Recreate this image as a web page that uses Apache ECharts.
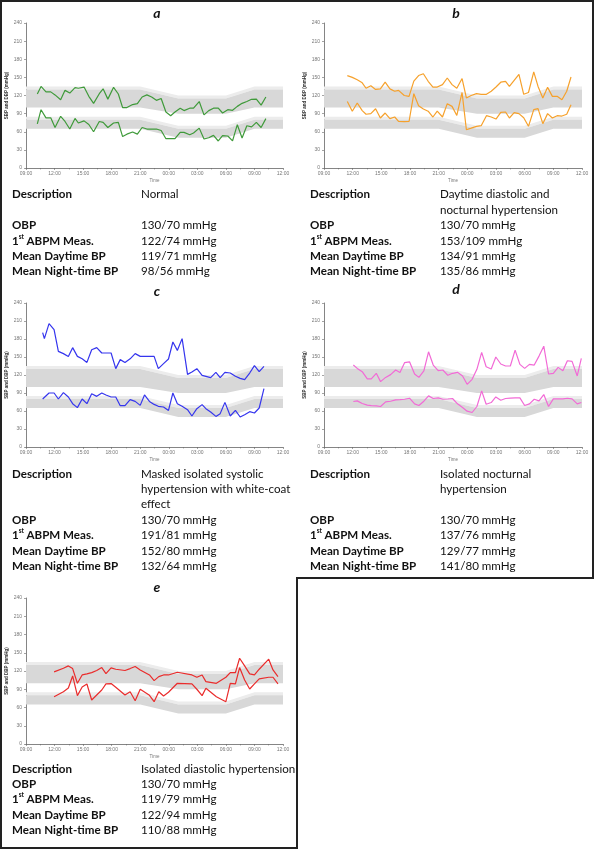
<!DOCTYPE html>
<html><head><meta charset="utf-8">
<script src="https://cdn.jsdelivr.net/npm/echarts@6/dist/echarts.min.js"></script>
<style>
html,body{margin:0;padding:0;background:#fff;}
#wrap{position:relative;width:594px;height:849px;overflow:hidden;font-family:Lato,'Open Sans',sans-serif;}
#chart{position:absolute;left:0;top:0;width:594px;height:849px;}
.t{position:absolute;font-weight:bold;font-style:italic;font-size:14px;line-height:14px;transform:translate(-50%,-50%);color:#111}
.row{position:absolute;left:0;height:15.4px;line-height:15.4px;font-size:11.6px;white-space:nowrap;color:#111}
.ln{position:absolute;background:#222}
sup{font-size:6.5px;vertical-align:top;line-height:10px;position:relative;top:-1px}
</style></head>
<body><div id="wrap"><div id="chart"></div></div>
<script>
// ---- axis / category data ----
const timeLabels = ['09:00','12:00','15:00','18:00','21:00','00:00','03:00','06:00','09:00','12:00'];
const yTickMax = 240, yTickStep = 30;
// normal-range bands (hours after 09:00)
const bandHours  = [0, 12, 16, 21, 24, 27];
const sbpBandLow = [100,100, 90, 90,100,100];
const sbpBandMid = [130,130,115,115,130,130];
const sbpBandHigh= [135,135,120,120,135,135];
const dbpBandLow = [65, 65, 50, 50, 65, 65];
const dbpBandMid = [80, 80, 65, 65, 80, 80];
const dbpBandHigh= [85, 85, 70, 70, 85, 85];

// ---- panel a ----
const aHours = [1.19,1.58,2.1,2.6,3.05,3.64,4.1,4.6,5.15,5.5,6.1,6.6,7.1,7.7,8.1,8.6,9.2,9.7,10.15,10.6,11.2,11.7,12.2,12.7,13.2,13.7,14.2,14.7,15.2,15.65,16.2,16.6,17.2,17.6,18.2,18.7,19.2,19.7,20.2,20.65,21.2,21.7,22.2,22.7,23.2,23.7,24.2,24.7,25.2];
const aSBP = [122.5,135,126,126,121,113,128.5,124,133,132,134,118.6,107,123,131,114,133.5,122.5,100,100,105,106.5,117.5,121,117.5,112,115,92.7,86.6,92.7,99,95,99,99,110,88,95,99,99,91,96.5,95.5,102,107,110,113.7,114,104,117.5];
const aDBP = [73,96.5,83,83,67,85.5,77,64.5,82,74.5,78,72,60,77,75.6,67,74.5,75.6,52,56,59.6,56,67,64.5,64.5,64.5,62,48.5,48.5,48.5,59,59,55,58,66,48,50,54,44.7,53.5,53,45,71.7,49.6,70,68,75.6,67,81.7];

// ---- panel b ----
const bHours = [2.44,2.96,3.48,4.0,4.4,4.9,5.4,5.9,6.4,6.9,7.4,7.8,8.4,8.9,9.4,9.9,10.4,10.9,11.4,11.85,12.4,12.9,13.4,13.9,14.45,14.9,15.4,15.96,16.45,17.0,17.5,18.0,18.5,19.0,19.4,19.9,20.4,20.9,21.4,21.95,22.4,22.9,23.4,23.9,24.4,24.9,25.4,25.85];
const bSBP = [153,150,146,141,132,136,130,131,142,131,127,128.5,120,118.6,143.7,153,156,143.5,134,134,138,149,138,132,148,116,120,123,122,122,127,134,142,143.5,135,145,155,122,125,159,135,116,133.5,118.6,118.6,113,127,150.6];
const bDBP = [110,94,107.6,95,89,90,98,82.8,91,81.7,84.4,77.2,76.7,77,123,103,97.6,94,84.4,94,84.4,106.5,102,87,125,63.4,66,69,70,86.6,84.4,81,92,92.7,82.8,91.6,90,83.3,69,96.6,98.2,73.4,90,82.8,86.6,86,89,104.8];

// ---- panel c ----
const cHours = [1.75,1.93,2.42,2.95,3.4,3.93,4.45,4.9,5.4,5.9,6.4,6.9,7.43,7.96,8.4,8.94,9.43,9.9,10.4,10.94,11.47,12.0,12.45,12.97,13.46,13.9,14.45,14.97,15.43,15.9,16.4,16.97,17.43,17.95,18.5,18.9,19.4,19.95,20.4,20.9,21.46,22.0,22.5,22.97,23.5,24.0,24.5,25.0];
const cSBP = [190.5,180.6,205.6,195.6,159.4,155.6,151,165.6,151,147,141,162,165.6,156.7,156.7,156.7,130.6,145.6,141,147,155.6,151,151,151,151,130.6,139,146.7,175,161,180.6,121,125,130.6,119.4,117.8,115.6,124.4,115.6,124.4,123.3,117.8,114.4,112.2,123.3,135.6,125.6,134.4];
const cDBP = [80,82,90,90,80,90.6,83.3,72.2,65.6,80,72.2,88.9,84.4,90,86.7,83.3,83.3,68.9,68.9,78.9,76,69.4,86.7,76,71,67.8,66.7,61,90,72.2,67.8,62.2,51.7,63.9,70.6,63.9,58.3,51,55.6,74.4,51.7,61,50,53.9,58.9,56.7,65,97.2];

// ---- panel d ----
const dHours = [3.07,3.48,4.0,4.53,4.95,5.47,5.92,6.45,6.97,7.5,7.95,8.43,8.95,9.48,9.93,10.45,10.94,11.43,11.95,12.44,12.96,13.45,13.97,14.5,14.98,15.5,16.0,16.5,16.97,17.5,17.98,18.5,19.0,19.5,20.0,20.5,21.0,21.5,22.0,22.5,23.0,23.5,24.0,24.5,25.0,25.47,25.96,26.5,26.93];
const dSBP = [136.6,131,125.6,113.4,113.4,122.8,109,116,120.6,128.3,124,140.5,142,121.7,116,126.7,158.7,136.6,127.2,128.3,119.5,122.8,124.4,118.4,104.5,112.8,129.4,157.6,133.8,130,150,138.3,135,135,161.5,137.7,131,137.7,136.6,151.5,168,121.7,122.8,132.7,127.2,143.8,142.7,118.4,147.7];
const dDBP = [75.8,76.9,72.5,69.7,69,68.6,67.5,75.2,76.3,78.5,79,79.6,81.3,71.9,69.1,76.3,85.2,80.8,81.9,79.6,80,80.8,71.9,65.8,59.7,57.5,67.5,93.5,71.3,74.1,83.5,78,80.8,81.5,81.9,81.9,69.1,71.9,79.6,76.9,87.4,67.5,80.2,80.2,80.2,81.3,80.2,71.9,74.1];

// ---- panel e ----
const eHours = [2.95,3.93,4.45,4.9,5.4,5.9,6.4,6.9,7.43,7.96,8.4,8.94,9.43,10.4,10.94,11.47,12.0,12.97,13.46,13.95,14.45,14.97,15.9,17.43,17.95,18.5,18.9,20.0,21.0,21.46,22.0,22.44,22.97,23.5,24.0,24.5,25.5,25.95,26.47];
const eSBP = [118.5,124.5,128.4,124,99.8,113.5,115.2,117.4,120.8,125.7,115.8,125.1,122.9,120.8,124,127.3,121.8,113.5,104.2,110.8,113.5,113.5,117.9,113.5,109.7,113.5,102.5,99.8,109.7,117.4,117.4,141,128.4,115.2,113.5,122.9,139.4,121.8,110.8];
const eDBP = [77.8,86,92,111.9,79.5,93.8,98.7,72.3,80.6,88.8,98.7,99.3,93.2,80.6,86,71.2,89.9,80,69.6,86,78.9,85,99.8,98.7,90,79.5,91.6,77.8,69.6,99.8,98.7,125.7,105.3,90.4,98.7,107,109.7,109.7,98.7];

// ---- text data ----
const panelLetters = ['a','b','c','d','e'];
const rowLabels = ['Description','OBP','1<sup>st</sup> ABPM Meas.','Mean Daytime BP','Mean Night-time BP'];
const descriptions = [
  ['Normal'],
  ['Daytime diastolic and','nocturnal hypertension'],
  ['Masked isolated systolic','hypertension with white-coat','effect'],
  ['Isolated nocturnal','hypertension'],
  ['Isolated diastolic hypertension']
];
const obpValues   = ['130/70 mmHg','130/70 mmHg','130/70 mmHg','130/70 mmHg','130/70 mmHg'];
const firstValues = ['122/74 mmHg','153/109 mmHg','191/81 mmHg','137/76 mmHg','119/79 mmHg'];
const dayValues   = ['119/71 mmHg','134/91 mmHg','152/80 mmHg','129/77 mmHg','122/94 mmHg'];
const nightValues = ['98/56 mmHg','135/86 mmHg','132/64 mmHg','141/80 mmHg','110/88 mmHg'];
const lineColors = ['#3f9a3a','#f6a12c','#3535ee','#f26ad6','#ea2c2c'];
const hoursList = [aHours,bHours,cHours,dHours,eHours];
const sbpList = [aSBP,bSBP,cSBP,dSBP,eSBP];
const dbpList = [aDBP,bDBP,cDBP,dDBP,eDBP];

// ---- layout ----
const grids = [
  {left:26, top:23, width:257, height:145},
  {left:324, top:23, width:258, height:145},
  {left:26, top:303, width:257, height:144},
  {left:324, top:303, width:258, height:144},
  {left:26, top:598, width:257, height:146}
];
const titlePos = [[157,13],[456,13],[157,291],[456,289],[157,587]];
const tablePos = [ // left of labels, left of values, center y of first line, row index of OBP
  [12,141,194,2],[310,440,194,2],[12,141,473.3,3],[310,440,473.3,3],[12,141,768.3,1]
];
const lineH = 15.4;

const wrap = document.getElementById('wrap');
// frame
[[0,0,2,849],[0,0,594,2],[592,0,2,578],[296,577,298,2],[296,577,2,272],[0,847,298,2]].forEach(r=>{
  const d=document.createElement('div');d.className='ln';
  d.style.left=r[0]+'px';d.style.top=r[1]+'px';d.style.width=r[2]+'px';d.style.height=r[3]+'px';
  wrap.appendChild(d);
});
// titles & tables
panelLetters.forEach((L,i)=>{
  const t=document.createElement('div');t.className='t';t.textContent=L;
  t.style.left=titlePos[i][0]+'px';t.style.top=titlePos[i][1]+'px';wrap.appendChild(t);
  const [lx,vx,cy,obpRow]=tablePos[i];
  const top0 = cy - lineH/2;
  function addRow(rowIdx, label, value){
    if(label!==null){
      const a=document.createElement('div');a.className='row';a.style.fontWeight='bold';
      a.style.left=lx+'px';a.style.top=(top0+rowIdx*lineH)+'px';a.innerHTML=label;wrap.appendChild(a);
    }
    const b=document.createElement('div');b.className='row';
    b.style.left=vx+'px';b.style.top=(top0+rowIdx*lineH)+'px';b.textContent=value;wrap.appendChild(b);
  }
  descriptions[i].forEach((s,k)=>addRow(k, k===0?rowLabels[0]:null, s));
  addRow(obpRow, rowLabels[1], obpValues[i]);
  addRow(obpRow+1, rowLabels[2], firstValues[i]);
  addRow(obpRow+2, rowLabels[3], dayValues[i]);
  addRow(obpRow+3, rowLabels[4], nightValues[i]);
});

// ---- chart ----
const axisGrey = '#666';
const xAxes = grids.map((g,i)=>({
  gridIndex:i, type:'value', min:0, max:(timeLabels.length-1)*3, interval:3,
  axisLine:{show:true,lineStyle:{color:axisGrey,width:0.8}},
  axisTick:{show:true,length:2,lineStyle:{color:axisGrey,width:0.6}},
  minorTick:{show:true,splitNumber:2,length:1.5,lineStyle:{color:axisGrey,width:0.5}},
  splitLine:{show:false},
  axisLabel:{fontSize:5,color:'#777',margin:3,formatter:v=>timeLabels[Math.round(v/3)]||''},
  name:'Time',nameLocation:'middle',nameGap:10,nameTextStyle:{fontSize:4.5,color:'#777'}
}));
const yAxes = grids.map((g,i)=>({
  gridIndex:i, type:'value', min:0, max:yTickMax, interval:yTickStep,
  axisLine:{show:true,lineStyle:{color:axisGrey,width:0.8}},
  axisTick:{show:true,length:2,lineStyle:{color:axisGrey,width:0.6}},
  splitLine:{show:false},
  axisLabel:{fontSize:5,color:'#777',margin:4},
  name:'SBP and DBP (mmHg)',nameLocation:'middle',nameGap:17,nameRotate:90,
  nameTextStyle:{fontSize:4.5,color:'#333',fontWeight:'bold'}
}));
const bandDefs = [
  {low:sbpBandMid, high:sbpBandHigh, color:'#ececec'},
  {low:sbpBandLow, high:sbpBandMid,  color:'#d8d8d8'},
  {low:dbpBandMid, high:dbpBandHigh, color:'#ececec'},
  {low:dbpBandLow, high:dbpBandMid,  color:'#d8d8d8'}
];
const series=[];
grids.forEach((g,i)=>{
  series.push({type:'custom',xAxisIndex:i,yAxisIndex:i,silent:true,z:1,
    data:bandDefs.map((b,k)=>[bandHours[0], k]),
    encode:{x:0,y:1},
    renderItem:(params,api)=>{
      const b=bandDefs[params.dataIndex];
      const top=bandHours.map((h,k)=>api.coord([h,b.high[k]]));
      const bot=bandHours.map((h,k)=>api.coord([h,b.low[k]])).reverse();
      return {type:'polygon',shape:{points:top.concat(bot)},style:{fill:b.color}};
    }});
  [sbpList[i],dbpList[i]].forEach(vals=>{
    series.push({type:'line',xAxisIndex:i,yAxisIndex:i,symbol:'none',z:3,
      lineStyle:{color:lineColors[i],width:1.2},
      data:hoursList[i].map((h,k)=>[h,vals[k]])});
  });
});
const chart = echarts.init(document.getElementById('chart'),null,{renderer:'canvas'});
chart.setOption({animation:false,backgroundColor:'transparent',grid:grids.map(g=>Object.assign({containLabel:false},g)),xAxis:xAxes,yAxis:yAxes,series});
</script>
</body></html>
